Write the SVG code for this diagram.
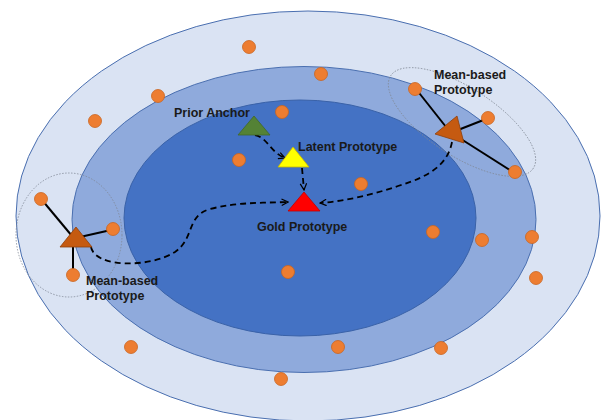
<svg xmlns="http://www.w3.org/2000/svg" width="602" height="420" viewBox="0 0 602 420">
<defs>
<marker id="arr" viewBox="0 0 10 10" refX="9" refY="5" markerWidth="8" markerHeight="8" markerUnits="userSpaceOnUse" orient="auto">
<path d="M1,1 L9,5 L1,9" fill="none" stroke="#000" stroke-width="1.5"/>
</marker>
</defs>
<style>
.dot{fill:#ED7D31;stroke:#C9651F;stroke-width:0.8}
.lbl{font-family:"Liberation Sans",Arial,sans-serif;font-weight:bold;font-size:12.5px;fill:#1a1a1a}
.link{stroke:#000;stroke-width:2;fill:none}
.dash{stroke:#000;stroke-width:1.8;fill:none;stroke-dasharray:6,4}
.region{fill:none;stroke:#7f8794;stroke-width:0.8;stroke-dasharray:1.5,1.5}
</style>
<rect width="602" height="420" fill="#ffffff"/>
<g id="regions">
<ellipse id="outer" cx="308" cy="216" rx="292" ry="205" fill="#DAE3F3" stroke="#4A6FB0" stroke-width="1"/>
<ellipse id="middle" cx="304" cy="219.5" rx="232" ry="153" fill="#8FAADC" stroke="#4A6FB0" stroke-width="1"/>
<ellipse id="inner" cx="300" cy="218" rx="176" ry="118" fill="#4472C4" stroke="#3A62A8" stroke-width="1"/>
</g>
<g id="clusters">
<ellipse class="region" cx="462" cy="122" rx="85" ry="34" transform="rotate(33 462 122)" fill="rgba(143,170,220,0.35)"/>
<ellipse class="region" cx="69" cy="235" rx="53" ry="62" fill="rgba(143,170,220,0.2)"/>
</g>
<g id="connectors">
<line class="link" x1="416" y1="89" x2="450" y2="132"/>
<line class="link" x1="450" y1="132" x2="513" y2="172"/>
<line class="link" x1="486" y1="119" x2="458" y2="130"/>
<line class="link" x1="42" y1="200" x2="72" y2="236"/>
<line class="link" x1="111" y1="230" x2="80" y2="237"/>
<line class="link" x1="73" y1="245" x2="73" y2="272"/>
<path class="dash" d="M255,135 C268,138 270,152 285,158" marker-end="url(#arr)"/>
<path class="dash" d="M302,168 L304,190" marker-end="url(#arr)"/>
<path class="dash" d="M452,142 C448,163 432,176 398,186 C372,195 345,201 320,203" marker-end="url(#arr)"/>
<path class="dash" d="M91,247 C95,268 150,268 175,252 C195,238 186,216 210,209 C238,202 262,203 288,202" marker-end="url(#arr)"/>
</g>
<g id="samples">
<circle class="dot" cx="249" cy="47" r="6.5"/>
<circle class="dot" cx="321" cy="74" r="6.5"/>
<circle class="dot" cx="158" cy="96" r="6.5"/>
<circle class="dot" cx="95" cy="121" r="6.5"/>
<circle class="dot" cx="282" cy="112" r="6.5"/>
<circle class="dot" cx="239" cy="160" r="6.5"/>
<circle class="dot" cx="361" cy="184" r="6.5"/>
<circle class="dot" cx="415" cy="89" r="6.5"/>
<circle class="dot" cx="488" cy="118" r="6.5"/>
<circle class="dot" cx="515" cy="172" r="6.5"/>
<circle class="dot" cx="41" cy="199" r="6.5"/>
<circle class="dot" cx="113" cy="229" r="6.5"/>
<circle class="dot" cx="73" cy="275" r="6.5"/>
<circle class="dot" cx="433" cy="232" r="6.5"/>
<circle class="dot" cx="482" cy="240" r="6.5"/>
<circle class="dot" cx="532" cy="237" r="6.5"/>
<circle class="dot" cx="536" cy="278" r="6.5"/>
<circle class="dot" cx="288" cy="272" r="6.5"/>
<circle class="dot" cx="131" cy="347" r="6.5"/>
<circle class="dot" cx="338" cy="347" r="6.5"/>
<circle class="dot" cx="441" cy="348" r="6.5"/>
<circle class="dot" cx="281" cy="379" r="6.5"/>
</g>
<g id="prior-anchor">
<polygon points="254,116 238,135 270,135" fill="#548235" stroke="#41672A" stroke-width="0.8"/>
<text class="lbl" x="174" y="117">Prior Anchor</text>
</g>
<g id="latent-prototype">
<polygon points="293,147 278,167 309,167" fill="#FFFF00" stroke="#C9B800" stroke-width="0.8"/>
<text class="lbl" x="298" y="151">Latent Prototype</text>
</g>
<g id="gold-prototype">
<polygon points="304,192 288,211 320,211" fill="#FF0000" stroke="#C00000" stroke-width="0.8"/>
<text class="lbl" x="257" y="231">Gold Prototype</text>
</g>
<g id="mean-prototype-right">
<polygon points="457,116 435,134 464,143" fill="#C55A11" stroke="#8E3F0A" stroke-width="0.8"/>
<text class="lbl" x="434" y="79">Mean-based</text>
<text class="lbl" x="434" y="94">Prototype</text>
</g>
<g id="mean-prototype-left">
<polygon points="76,227 60,247 92,247" fill="#C55A11" stroke="#8E3F0A" stroke-width="0.8"/>
<text class="lbl" x="86" y="285">Mean-based</text>
<text class="lbl" x="86" y="300">Prototype</text>
</g>
</svg>
